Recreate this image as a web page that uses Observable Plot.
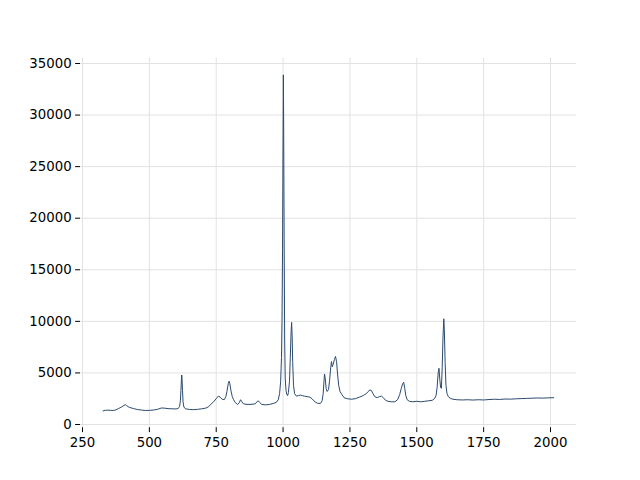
<!DOCTYPE html>
<html>
<head>
<meta charset="utf-8">
<script src="https://cdn.jsdelivr.net/npm/d3@7"></script>
<script src="https://cdn.jsdelivr.net/npm/@observablehq/plot@0.6"></script>
<style>
  html, body { margin: 0; padding: 0; background: #fff; }
</style>
</head>
<body>
<div id="chart"></div>
<script>
const wavenumber = [
  327,335,345,355,365,375,385,395,405,410,415,425,440,455,470,485,500,515,530,545,
  555,570,585,600,608,613,616,618,620,621,622,624,626,629,635,650,665,680,695,705,
  712,720,730,740,750,758,765,772,780,786,790,795,798,801,805,810,815,822,830,836,
  841,846,852,865,880,895,903,907,912,920,935,950,965,975,982,987,991,994,996,998,
  1000,1001,1002,1004,1006,1008,1011,1014,1017,1020,1024,1027,1030,1032,1034,1036,1039,1043,1050,1058,
  1065,1072,1080,1090,1100,1108,1115,1122,1130,1140,1146,1150,1153,1155,1158,1161,1165,1170,1174,1178,
  1181,1184,1187,1192,1196,1200,1204,1208,1213,1220,1228,1240,1255,1270,1285,1295,1305,1312,1318,1325,
  1330,1336,1343,1352,1360,1368,1375,1383,1392,1405,1418,1428,1436,1442,1447,1451,1455,1459,1464,1472,
  1485,1500,1515,1530,1545,1558,1566,1572,1576,1580,1583,1586,1589,1592,1595,1598,1601,1603,1606,1609,
  1613,1618,1625,1635,1650,1670,1690,1710,1730,1750,1770,1790,1810,1830,1850,1870,1890,1910,1930,1950,
  1970,1990,2012
];
const intensity = [
  1320,1380,1390,1370,1360,1420,1550,1680,1850,1920,1830,1660,1550,1450,1400,1360,1370,1400,1470,1600,
  1590,1540,1520,1510,1560,1750,2300,3300,4400,4800,4550,3300,2200,1700,1520,1460,1440,1470,1520,1560,
  1600,1700,1950,2200,2500,2750,2650,2450,2400,2700,3200,3950,4200,3950,3300,2700,2400,2100,1950,2100,
  2400,2200,2000,1950,1950,2000,2200,2300,2150,1950,1900,1950,2050,2150,2400,3000,4200,6500,10000,17000,
  28000,33900,30000,18000,8000,4500,3300,2900,2800,3100,4200,6500,9000,9900,8500,6000,3800,3000,2750,2800,
  2850,2800,2750,2700,2650,2500,2300,2150,2050,2050,2300,3000,4200,4900,4400,3500,3200,3400,4300,5500,
  6100,5600,5800,6300,6600,6100,4800,3800,3200,2900,2600,2500,2450,2500,2650,2750,2900,3000,3200,3350,
  3300,3000,2700,2600,2700,2750,2600,2350,2250,2200,2200,2400,2900,3500,3950,4100,3500,2800,2400,2250,
  2200,2250,2200,2250,2300,2350,2500,2800,3600,5000,5450,4400,3600,3500,5500,8500,10250,9200,6000,3800,
  3000,2700,2550,2450,2400,2380,2400,2370,2400,2380,2420,2450,2430,2470,2460,2490,2510,2530,2550,2570,
  2560,2580,2600
];
const xTicks = [250, 500, 750, 1000, 1250, 1500, 1750, 2000];
const yTicks = [0, 5000, 10000, 15000, 20000, 25000, 30000, 35000];

const spectrum = wavenumber.map((w, i) => ({w, v: intensity[i]}));

const chart = Plot.plot({
  width: 640,
  height: 480,
  marginLeft: 80,
  marginRight: 64,
  marginTop: 57.6,
  marginBottom: 52.8,
  style: {fontFamily: "DejaVu Sans", fontSize: "13.3px", color: "#000", background: "#fff"},
  x: {domain: [242.5, 2097.2]},
  y: {domain: [-310, 35523]},
  marks: [
    Plot.gridX(xTicks, {stroke: "#e2e2e2", strokeOpacity: 1, strokeWidth: 1}),
    Plot.gridY(yTicks, {stroke: "#e2e2e2", strokeOpacity: 1, strokeWidth: 1}),
    Plot.axisX(xTicks, {tickSize: 4.9, tickPadding: 5, tickFormat: d => String(d), label: null, stroke: "#000"}),
    Plot.axisY(yTicks, {tickSize: 4.9, tickPadding: 4, tickFormat: d => String(d), label: null, stroke: "#000"}),
    Plot.line(spectrum, {x: "w", y: "v", stroke: "#2b4a6f", strokeWidth: 1, curve: "linear"})
  ]
});
document.getElementById("chart").appendChild(chart);
</script>
</body>
</html>
